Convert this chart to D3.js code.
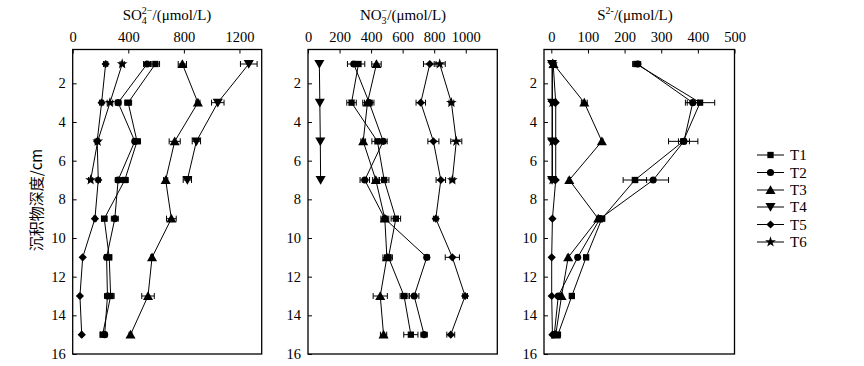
<!DOCTYPE html>
<html><head><meta charset="utf-8">
<script src="https://cdn.jsdelivr.net/npm/d3@7"></script>
<style>body{margin:0;background:#fff}svg{display:block}text{font-family:"Liberation Serif","Times New Roman",serif;fill:#000}</style>
</head><body><svg id="c" width="864" height="366"></svg>
<script>
const depths = [1,3,5,7,9,11,13,15];
const depthsShort = [1,3,5,7];
const seriesNames = ["T1","T2","T3","T4","T5","T6"];
const yTicks = [2,4,6,8,10,12,14,16];

// SO4 2- (umol/L)
const so4T1 = [595,399,463,375,227,263,273,215];
const so4T2 = [535,327,447,327,303,244,250,230];
const so4T3 = [789,901,734,669,710,571,542,416];
const so4T4 = [1267,1044,890,825];
const so4T5 = [237,208,176,184,160,72,52,65];
const so4T6 = [356,268,180,129];
const so4ErrT1 = [30,25,25,25,20,15,25,15];
const so4ErrT2 = [25,20,15,20,25,15,20,15];
const so4ErrT3 = [30,15,40,15,35,10,45,10];
const so4ErrT4 = [60,45,30,30];
const so4ErrT5 = [15,15,15,15,10,5,5,5];
const so4ErrT6 = [15,20,10,15];
const so4Ticks = [0,400,800,1200];

// NO3- (umol/L)
const no3T1 = [320,276,440,483,557,510,609,652];
const no3T2 = [290,388,477,360,487,753,673,736];
const no3T3 = [434,377,350,430,487,500,458,479];
const no3T4 = [72,75,78,80];
const no3T5 = [772,715,795,842,810,915,996,905];
const no3T6 = [835,909,940,915];
const no3ErrT1 = [40,30,35,30,30,25,25,45];
const no3ErrT2 = [40,30,25,30,25,15,30,20];
const no3ErrT3 = [30,30,15,20,15,25,45,20];
const no3ErrT4 = [0,0,0,0];
const no3ErrT5 = [40,30,35,30,15,45,15,25];
const no3ErrT6 = [35,15,35,15];
const no3Ticks = [0,200,400,600,800,1000];

// S2- (umol/L)
const sT1 = [232,406,360,228,138,95,56,18];
const sT2 = [236,386,362,278,133,72,19,8];
const sT3 = [6,90,138,49,128,46,28,12];
const sT4 = [2,2,2,2];
const sT5 = [5,12,12,12,3,1,1,3];
const sT6 = [3,3,3,3];
const sErrT1 = [10,40,40,32,8,5,3,3];
const sErrT2 = [8,15,15,42,5,3,3,3];
const sErrT3 = [3,8,3,3,5,3,3,3];
const sErrT4 = [0,0,0,0];
const sErrT5 = [0,0,0,0,0,0,0,0];
const sErrT6 = [0,0,0,0];
const sTicks = [0,100,200,300,400,500];

const svg = d3.select("#c");
const plotTop = 49.5, plotBottom = 354;
const y = d3.scaleLinear().domain([0.25,16]).range([plotTop,plotBottom]);

const symTypes = [d3.symbolSquare, d3.symbolCircle, d3.symbolTriangle, d3.symbolTriangle, d3.symbolSquare, d3.symbolStar];
const symSizes = [40, 40, 44, 44, 34, 36];
const symRot = [0,0,0,180,45,0];

function marker(g, i, cx, cy){
  g.append("path").attr("d", d3.symbol().type(symTypes[i]).size(symSizes[i])())
   .attr("transform", `translate(${cx},${cy}) rotate(${symRot[i]})${(i===2||i===3)?" translate(0,1)":""}`)
   .attr("fill","#000");
}

const panels = [
  {x0:72.7, x1:261.7, dom:[0,1360], ticks:so4Ticks,
   vals:[so4T1,so4T2,so4T3,so4T4,so4T5,so4T6], errs:[so4ErrT1,so4ErrT2,so4ErrT3,so4ErrT4,so4ErrT5,so4ErrT6]},
  {x0:308, x1:497.3, dom:[0,1200], ticks:no3Ticks,
   vals:[no3T1,no3T2,no3T3,no3T4,no3T5,no3T6], errs:[no3ErrT1,no3ErrT2,no3ErrT3,no3ErrT4,no3ErrT5,no3ErrT6]},
  {x0:544, x1:734.5, dom:[-20,500], ticks:sTicks,
   vals:[sT1,sT2,sT3,sT4,sT5,sT6], errs:[sErrT1,sErrT2,sErrT3,sErrT4,sErrT5,sErrT6]}
];

panels.forEach(p=>{
  const x = d3.scaleLinear().domain(p.dom).range([p.x0,p.x1]);
  const g = svg.append("g");
  g.append("rect").attr("x",p.x0).attr("y",plotTop).attr("width",p.x1-p.x0).attr("height",plotBottom-plotTop)
   .attr("fill","none").attr("stroke","#000").attr("stroke-width",1.3);
  const ax = d3.axisTop(x).tickValues(p.ticks).tickFormat(d3.format("d")).tickSizeInner(-4).tickSizeOuter(0).tickPadding(8);
  const ga = g.append("g").attr("transform",`translate(0,${plotTop})`).call(ax)
    .attr("font-family","Liberation Serif").attr("font-size",14.5);
  ga.select(".domain").remove();
  ga.selectAll("text").attr("fill","#000");
  ga.selectAll("line").attr("stroke","#000");
  const ay = d3.axisLeft(y).tickValues(yTicks).tickSizeInner(-4).tickSizeOuter(0).tickPadding(7);
  const gy = g.append("g").attr("transform",`translate(${p.x0},0)`).call(ay)
    .attr("font-family","Liberation Serif").attr("font-size",14.5);
  gy.select(".domain").remove();
  gy.selectAll("text").attr("fill","#000");
  gy.selectAll("line").attr("stroke","#000");

  p.vals.forEach((vals,i)=>{
    const ds = vals.length===8 ? depths : depthsShort;
    const pts = vals.map((v,k)=>[x(v), y(ds[k])]);
    g.append("path").attr("d", d3.line()(pts)).attr("fill","none").attr("stroke","#000").attr("stroke-width",1);
    vals.forEach((v,k)=>{
      const e = p.errs[i][k];
      if(!e) return;
      const cy = y(ds[k]);
      const xa = x(v-e), xb = x(v+e);
      g.append("line").attr("x1",xa).attr("x2",xb).attr("y1",cy).attr("y2",cy).attr("stroke","#000").attr("stroke-width",1);
      [xa,xb].forEach(xx=>g.append("line").attr("x1",xx).attr("x2",xx).attr("y1",cy-3).attr("y2",cy+3).attr("stroke","#000").attr("stroke-width",1));
    });
    pts.forEach(pt=>marker(g,i,pt[0],pt[1]));
  });
});

const t1 = svg.append("text").attr("x",167).attr("y",20).attr("text-anchor","middle").attr("font-size",15);
t1.append("tspan").text("SO");
t1.append("tspan").attr("font-size",10).attr("dy",4).text("4");
t1.append("tspan").attr("font-size",10).attr("dx",-5).attr("dy",-10).text("2−");
t1.append("tspan").attr("dy",6).text("/(μmol/L)");

const t2 = svg.append("text").attr("x",403).attr("y",20).attr("text-anchor","middle").attr("font-size",15);
t2.append("tspan").text("NO");
t2.append("tspan").attr("font-size",10).attr("dy",4).text("3");
t2.append("tspan").attr("font-size",10).attr("dx",-5).attr("dy",-10).text("−");
t2.append("tspan").attr("dy",6).text("/(μmol/L)");

const t3 = svg.append("text").attr("x",635).attr("y",20).attr("text-anchor","middle").attr("font-size",15);
t3.append("tspan").text("S");
t3.append("tspan").attr("font-size",10).attr("dy",-6).text("2-");
t3.append("tspan").attr("dy",6).text("/(μmol/L)");

svg.append("text").attr("transform","translate(42,200) rotate(-90)").attr("text-anchor","middle")
  .attr("font-size",15).style("font-family","'Noto Sans CJK SC', 'Liberation Serif'").text("沉积物深度/cm");

const legY = [155,172.5,190,207,224.5,242];
seriesNames.forEach((n,i)=>{
  svg.append("line").attr("x1",757).attr("x2",784).attr("y1",legY[i]).attr("y2",legY[i]).attr("stroke","#000").attr("stroke-width",1);
  marker(svg,i,770.5,legY[i]);
  svg.append("text").attr("x",790).attr("y",legY[i]+5).attr("font-size",15).text(n);
});
</script></body></html>
